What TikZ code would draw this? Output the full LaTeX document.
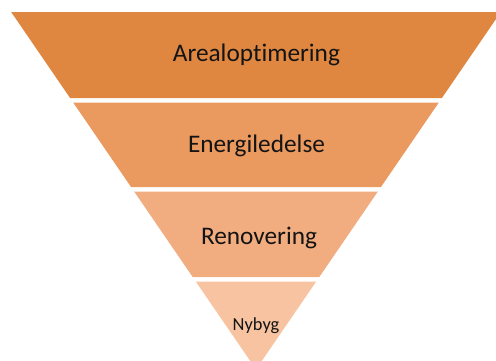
\documentclass[tikz,border=0pt]{standalone}
\usepackage{fontspec}
\setmainfont{Carlito}[Ligatures=NoCommon]
\definecolor{bandA}{HTML}{DF8741}
\definecolor{bandB}{HTML}{EA995F}
\definecolor{bandC}{HTML}{F1AC80}
\definecolor{bandD}{HTML}{F8C3A0}
% funnel geometry: apex position and horizontal run per unit of height
\def\funcx{256}
\def\funapex{369.4}
\def\funslope{0.685}
% one trapezoidal layer of the funnel: #1 top, #2 bottom, #3 colour
\newcommand\funnelband[3]{%
  \fill[#3] ({\funcx-(\funapex-#1)*\funslope},#1) -- ({\funcx+(\funapex-#1)*\funslope},#1)
    -- ({\funcx+(\funapex-#2)*\funslope},#2) -- ({\funcx-(\funapex-#2)*\funslope},#2) -- cycle;}
\begin{document}
\begin{tikzpicture}[x=1pt,y=-1pt,
  bandlabel/.style={anchor=base,text=black!92,inner sep=0pt,font=\fontsize{25.3}{30}\selectfont},
  smalllabel/.style={bandlabel,font=\fontsize{18.4}{22}\selectfont}]
\useasboundingbox (0,0) rectangle (496,360);
\clip (0,0) rectangle (496,360);
\funnelband{12}{98}{bandA}
\funnelband{102.5}{187}{bandB}
\funnelband{191.5}{277}{bandC}
\funnelband{281.5}{369.4}{bandD}
\node[bandlabel] (areal) at (256.4,61.7) {Arealoptimering};
\node[bandlabel] (energi) at (256.5,152) {Energiledelse};
\node[bandlabel] (renov) at (259,244) {Renovering};
\node[smalllabel] (nybyg) at (256,330) {Nybyg};
\end{tikzpicture}
\end{document}
